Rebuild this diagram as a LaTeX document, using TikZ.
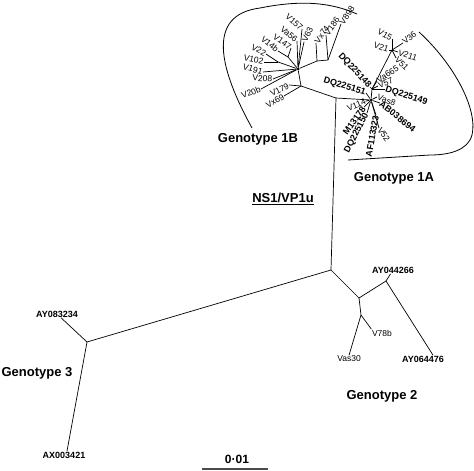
\documentclass[tikz,border=0pt]{standalone}
\usepackage{fontspec}
\setmainfont{Liberation Sans}
\begin{document}
\begin{tikzpicture}[x=1pt,y=-1pt]
\tikzstyle{leaf}=[font=\fontsize{8.5}{9}\selectfont,inner sep=0.5pt]
\tikzstyle{acc}=[font=\bfseries\fontsize{9}{10}\selectfont,inner sep=0.5pt]
\tikzstyle{genotype}=[font=\bfseries\fontsize{13}{15}\selectfont,inner sep=1pt]
\tikzstyle{hub}=[circle,fill=black,inner sep=0pt,minimum size=3pt]
\tikzstyle{branch}=[line width=0.7pt]
\tikzstyle{outline}=[line width=0.8pt]
\useasboundingbox (0,0) rectangle (474,471);
\coordinate (R) at (331,270);
\coordinate (A) at (336,98);
\coordinate (G3) at (87,342);
\coordinate (J2) at (359,298);
\coordinate (J2a) at (386,281);
\coordinate (J2b) at (361,315);
\coordinate (B1) at (301,86);
\node[hub] (H1B) at (298,69) {};
\node[hub] (H1A) at (371,100) {};
\coordinate (J1A) at (372,89);
\coordinate (S1A) at (392,50);
\coordinate (S1B) at (317,61);
\coordinate (S1C) at (328,60);
\coordinate (S1D) at (288,57);
\coordinate (S1E) at (278,62);
\node[acc] (AY083234) at (57,314) {AY083234};
\node[acc] (AX003421) at (64,455) {AX003421};
\node[acc] (AY044266) at (393,270) {AY044266};
\node[acc] (AY064476) at (423,359) {AY064476};
\node[leaf] (V78b) at (382,333) {V78b};
\node[leaf] (Vas30) at (349,359) {Vas30};
\node[leaf,rotate=-42,anchor=east] (V157) at (302,29) {V157};
\node[leaf,rotate=-40,anchor=east] (Va56) at (297,41) {Va56};
\node[leaf,rotate=-35,anchor=east] (V147) at (291,48) {V147};
\node[leaf,rotate=-40,anchor=east] (V14b) at (278,51) {V14b};
\node[leaf,rotate=-28,anchor=east] (V22) at (266,54) {V22};
\node[leaf,rotate=-12,anchor=east] (V102) at (264,62) {V102};
\node[leaf,rotate=-15,anchor=east] (V191) at (263,72) {V191};
\node[leaf,rotate=-3,anchor=east] (V208) at (273,79) {V208};
\node[leaf,rotate=20,anchor=east] (V20b) at (261,89) {V20b};
\node[leaf,rotate=27,anchor=east] (V179) at (289,85) {V179};
\node[leaf,rotate=30,anchor=east] (Vx69) at (284,96) {Vx69};
\node[leaf,rotate=65,anchor=west] (V63) at (304,42) {V63};
\node[leaf,rotate=55,anchor=west] (Vx74) at (316,43) {Vx74};
\node[leaf,rotate=55,anchor=west] (V186) at (326,35) {V186};
\node[leaf,rotate=55,anchor=west] (V898) at (341,24) {V898};
\node[leaf,rotate=-30,anchor=east] (V15) at (392,39) {V15};
\node[leaf,rotate=-20,anchor=east] (V21) at (389,50) {V21};
\node[leaf,rotate=40,anchor=west] (V36) at (403,43) {V36};
\node[leaf,rotate=-20,anchor=west] (V211) at (398,52) {V211};
\node[leaf,rotate=-45,anchor=west] (V51) at (396,58) {V51};
\node[leaf,rotate=32,anchor=west] (Va665) at (377,81) {Va665};
\node[leaf,rotate=22,anchor=west] (V57) at (378,86) {V57};
\node[acc,rotate=-18,anchor=west] (DQ225149) at (385,89) {DQ225149};
\node[acc,rotate=-47,anchor=east] (DQ225148) at (370,87) {DQ225148};
\node[acc,rotate=-17,anchor=east] (DQ225151) at (366,93) {DQ225151};
\node[leaf,rotate=-20,anchor=west] (Vas8) at (377,97) {Vas8};
\node[acc,rotate=-38,anchor=west] (AB038694) at (380,103) {AB038694};
\node[leaf,rotate=-55,anchor=west] (V52) at (379,128) {V52};
\node[leaf,rotate=22,anchor=east] (V114) at (366,101) {V114};
\node[acc,rotate=55,anchor=east] (M13178) at (364,107) {M13178};
\node[acc,rotate=63,anchor=east] (DQ225150) at (367,113) {DQ225150};
\node[acc,rotate=80,anchor=east] (AF113323) at (376,115) {AF113323};
\node[genotype] (G1B) at (258,139) {Genotype 1B};
\node[genotype] (G1A) at (394,178) {Genotype 1A};
\node[genotype] (G3lab) at (37,373) {Genotype 3};
\node[genotype] (G2lab) at (382,396) {Genotype 2};
\node[genotype] (NS1) at (283,199) {\underline{NS1/VP1u}};
\node[genotype,font=\bfseries\fontsize{12}{14}\selectfont] (scale) at (237,459) {0·01};
\coordinate (s1) at (202,469);
\coordinate (s2) at (268,469);
\draw[branch] (R) -- (A);
\draw[branch] (R) -- (G3);
\draw[branch] (R) -- (J2);
\draw[branch] (G3) -- (AY083234);
\draw[branch] (G3) -- ([xshift=3pt]AX003421.north);
\draw[branch] (J2) -- (J2a);
\draw[branch] (J2) -- (J2b);
\draw[branch] (J2a) -- (AY044266);
\draw[branch] (J2a) -- ([xshift=10pt]AY064476.north);
\draw[branch] (J2b) -- (V78b.north west);
\draw[branch] (J2b) -- (Vas30.north);
\draw[branch] (A) -- (B1);
\draw[branch] (B1) -- (H1B);
\draw[branch] (B1) -- (V179.east);
\draw[branch] (B1) -- (Vx69.east);
\draw[branch] (H1B) -- (V20b.east);
\draw[branch] (H1B) -- (V208.east);
\draw[branch] (H1B) -- (V191.east);
\draw[branch] (H1B) -- (S1E);
\draw[branch] (S1E) -- (V102.east);
\draw[branch] (S1E) -- (V22.east);
\draw[branch] (H1B) -- (S1D);
\draw[branch] (S1D) -- (V14b.east);
\draw[branch] (S1D) -- (V147.east);
\draw[branch] (H1B) -- (Va56.east);
\draw[branch] (H1B) -- (V157.east);
\draw[branch] (H1B) -- (V63.west);
\draw[branch] (H1B) -- (S1B);
\draw[branch] (S1B) -- (Vx74.west);
\draw[branch] (S1B) -- (S1C);
\draw[branch] (S1C) -- (V186.west);
\draw[branch] (S1C) -- (V898.west);
\draw[branch] (A) -- (H1A);
\draw[branch] (H1A) -- (J1A);
\draw[branch] (J1A) -- (S1A);
\draw[branch] (S1A) -- (V15.east);
\draw[branch] (S1A) -- (V21.east);
\draw[branch] (S1A) -- (V36.west);
\draw[branch] (S1A) -- (V211.west);
\draw[branch] (S1A) -- (V51.west);
\draw[branch] (J1A) -- (Va665.west);
\draw[branch] (J1A) -- (V57.west);
\draw[branch] (J1A) -- (DQ225149.west);
\draw[branch] (J1A) -- (DQ225148.east);
\draw[branch] (H1A) -- (DQ225151.east);
\draw[branch] (H1A) -- (Vas8.west);
\draw[branch] (H1A) -- (AB038694.west);
\draw[branch] (H1A) -- (V52.west);
\draw[branch] (H1A) -- (V114.east);
\draw[branch] (H1A) -- (M13178.east);
\draw[branch] (H1A) -- (DQ225150.east);
\draw[branch] (H1A) -- (AF113323.east);
\draw[outline] (252,128) .. controls (220,70) and (205,15) .. (260,8) .. controls (300,0) and (330,2) .. (357,14);
\draw[outline] (419,32) .. controls (455,65) and (478,110) .. (472,135) .. controls (468,150) and (450,155) .. (430,155) -- (348,160);
\draw[line width=2pt,black!70] (s1) -- (s2);
\end{tikzpicture}
\end{document}
